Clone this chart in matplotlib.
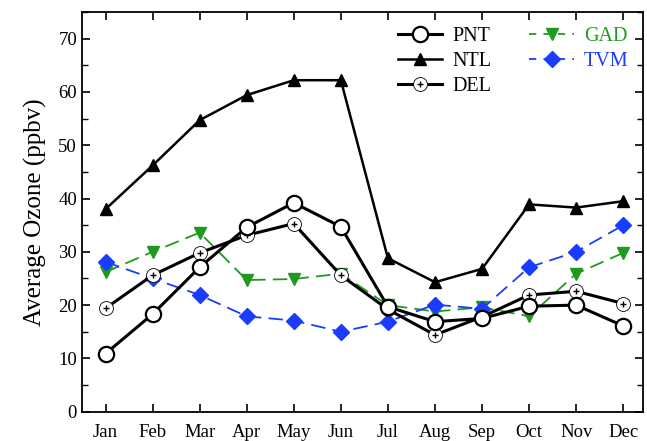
import matplotlib
matplotlib.use("Agg")
import matplotlib.pyplot as plt
from matplotlib.lines import Line2D
from matplotlib.legend_handler import HandlerTuple
from matplotlib.ticker import MultipleLocator

months = ["Jan", "Feb", "Mar", "Apr", "May", "Jun",
          "Jul", "Aug", "Sep", "Oct", "Nov", "Dec"]

pnt = [10.9, 18.3, 27.1, 34.6, 39.2, 34.7, 19.7, 16.9, 17.5, 19.8, 20.0, 16.1]
ntl = [38.0, 46.2, 54.7, 59.4, 62.2, 62.2, 28.8, 24.3, 26.8, 38.9, 38.3, 39.5]
dele = [19.4, 25.6, 29.8, 33.1, 35.3, 25.6, 19.2, 14.4, 17.8, 21.9, 22.6, 20.3]
gad = [26.2, 30.0, 33.6, 24.7, 24.9, 25.9, 20.0, 18.8, 19.6, 17.9, 25.9, 29.8]
tvm = [28.1, 25.0, 21.9, 17.9, 17.1, 15.0, 16.9, 20.1, 19.3, 27.1, 30.0, 35.0]

plt.rcParams["font.family"] = ["Liberation Serif", "DejaVu Serif"]

fig = plt.figure(figsize=(6.47, 4.41), dpi=100)
ax = fig.add_axes([0.1267, 0.0664, 0.8671, 0.9064])

x = list(range(1, len(months) + 1))
green = "#1f9a1f"
blue = "#1a3cff"

ax.plot(x, gad, color=green, lw=1.3, dashes=(8, 4), marker="v", ms=9,
        mfc=green, mec=green, zorder=2)
ax.plot(x, tvm, color=blue, lw=1.3, dashes=(8, 4), marker="D", ms=8,
        mfc=blue, mec=blue, zorder=2)
ax.plot(x, ntl, color="black", lw=1.8, marker="^", ms=9,
        mfc="black", mec="black", zorder=3)
ax.plot(x, dele, color="black", lw=2.2, marker="o", ms=10,
        mfc="white", mec="black", mew=0.6, zorder=3)
ax.plot(x, dele, ls="none", marker="+", ms=5, mec="black", mew=1.0, zorder=3.1)
ax.plot(x, pnt, color="black", lw=2.2, marker="o", ms=11,
        mfc="white", mec="black", mew=1.6, zorder=4)

ax.set_xlim(0.5, 12.42)
ax.set_ylim(0, 75)
ax.set_xticks(x)
ax.set_xticklabels(months, fontsize=13.5)
ax.yaxis.set_major_locator(MultipleLocator(10))
ax.yaxis.set_minor_locator(MultipleLocator(5))
ax.tick_params(axis="y", labelsize=13.5)
ax.tick_params(which="both", direction="in", top=True, right=True)
ax.tick_params(which="major", length=6, width=1.2)
ax.tick_params(which="minor", length=4, width=1.0)
ax.tick_params(axis="x", pad=9)
for s in ax.spines.values():
    s.set_linewidth(1.3)

ax.set_ylabel("Average Ozone (ppbv)", fontsize=18, labelpad=8)

h_pnt = Line2D([], [], color="black", lw=2.2, marker="o", ms=11,
               mfc="white", mec="black", mew=1.6)
h_ntl = Line2D([], [], color="black", lw=1.8, marker="^", ms=9,
               mfc="black", mec="black")
h_del_a = Line2D([], [], color="black", lw=2.2, marker="o", ms=10,
                 mfc="white", mec="black", mew=0.6)
h_del_b = Line2D([], [], ls="none", marker="+", ms=5, mec="black", mew=1.0)
h_gad = Line2D([], [], color=green, lw=1.3, dashes=(4, 4), marker="v", ms=9,
               mfc=green, mec=green)
h_tvm = Line2D([], [], color=blue, lw=1.3, dashes=(4, 4), marker="D", ms=8,
               mfc=blue, mec=blue)

leg = ax.legend([h_pnt, h_ntl, (h_del_a, h_del_b), h_gad, h_tvm],
                ["PNT", "NTL", "DEL", "GAD", "TVM"],
                handler_map={tuple: HandlerTuple(ndivide=1)},
                ncol=2, frameon=False, fontsize=14.5,
                loc="upper right", bbox_to_anchor=(0.974, 0.9625),
                borderaxespad=0, borderpad=0,
                handlelength=2.2, columnspacing=1.9, labelspacing=0.3,
                handletextpad=0.5)
texts = leg.get_texts()
texts[3].set_color(green)
texts[4].set_color(blue)

fig.savefig("out.png", dpi=100)
